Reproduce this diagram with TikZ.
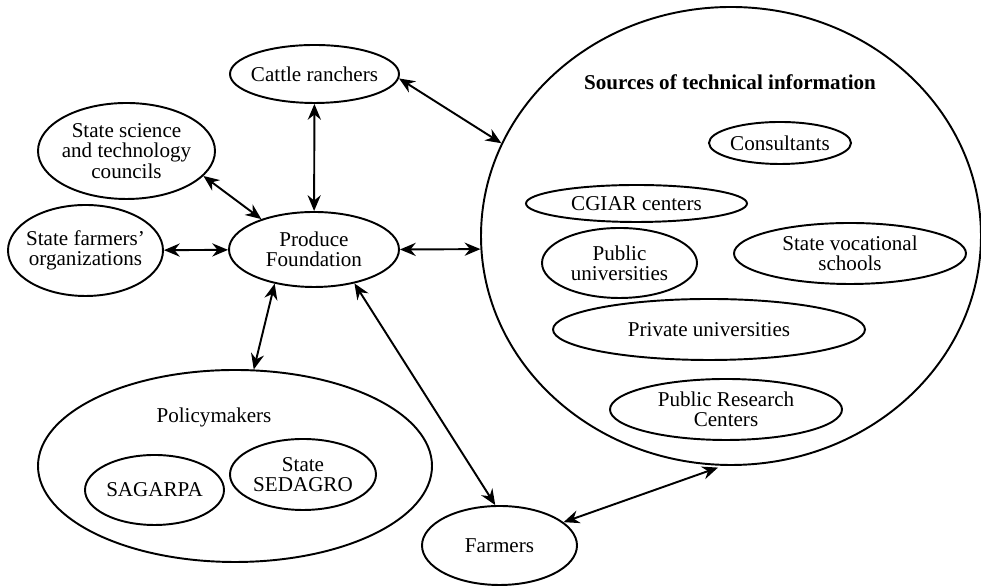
\documentclass[tikz,border=0pt]{standalone}
\usepackage{fontspec}
\setmainfont{Liberation Serif}
\usetikzlibrary{shapes.geometric,arrows.meta}
\begin{document}
\begin{tikzpicture}[
    every node/.style={font=\fontsize{12}{11.5}\selectfont},
    ent/.style={ellipse, draw, line width=1.1pt, inner xsep=-3pt, inner ysep=0pt, align=center},
    txt/.style={align=center}
  ]
  \useasboundingbox (0,0) rectangle (19.62,11.76);
  \draw
    (6.29,10.28) node[ent, minimum width=3.38cm, minimum height=1.16cm] (cattle){Cattle ranchers}
    (2.53,8.74) node[ent, minimum width=3.54cm, minimum height=1.92cm] (science){State science\\and technology\\councils}
    (1.71,6.75) node[ent, minimum width=3.10cm, minimum height=1.82cm] (farmorg){State farmers'\\organizations}
    (6.28,6.77) node[ent, minimum width=3.40cm, minimum height=1.50cm] (produce){Produce\\Foundation}
    (14.62,7.04) node[ent, minimum width=10.0cm, minimum height=9.16cm] (sources){}
    (14.60,10.12) node[txt, font=\fontsize{12}{11.5}\selectfont\bfseries] (sourcestitle){Sources of technical information}
    (15.60,8.90) node[ent, minimum width=2.84cm, minimum height=0.84cm] (consult){Consultants}
    (12.73,7.69) node[ent, minimum width=4.42cm, minimum height=0.74cm] (cgiar){CGIAR centers}
    (12.39,6.50) node[ent, minimum width=3.10cm, minimum height=1.40cm] (pubuni){Public\\universities}
    (17.00,6.69) node[ent, minimum width=4.64cm, minimum height=1.22cm] (vocat){State vocational\\schools}
    (14.18,5.17) node[ent, minimum width=6.24cm, minimum height=1.22cm] (privuni){Private universities}
    (14.52,3.57) node[ent, minimum width=4.64cm, minimum height=1.22cm] (research){Public Research\\Centers}
    (4.70,2.44) node[ent, minimum width=7.88cm, minimum height=3.84cm] (policy){}
    (4.28,3.42) node[txt] (policytitle){Policymakers}
    (3.09,1.96) node[ent, minimum width=2.78cm, minimum height=1.40cm] (sagarpa){SAGARPA}
    (6.06,2.27) node[ent, minimum width=2.92cm, minimum height=1.42cm] (sedagro){State\\SEDAGRO}
    (9.99,0.85) node[ent, minimum width=3.10cm, minimum height=1.58cm] (farmers){Farmers};
  \begin{scope}[<->, >={Stealth[length=9pt,width=7.5pt,inset=3pt]}, line width=1.1pt]
    \draw (cattle) to (produce);
    \draw (cattle.-3) to (sources.158);
    \draw (science.-18) to (produce.150);
    \draw (farmorg) to (produce);
    \draw (produce.east) to (sources.183);
    \draw (produce.-139) to (policy.79);
    \draw (produce.-40) to (farmers.96);
    \draw[shorten >=3pt] (farmers.20) to (sources.268);
  \end{scope}
\end{tikzpicture}
\end{document}
